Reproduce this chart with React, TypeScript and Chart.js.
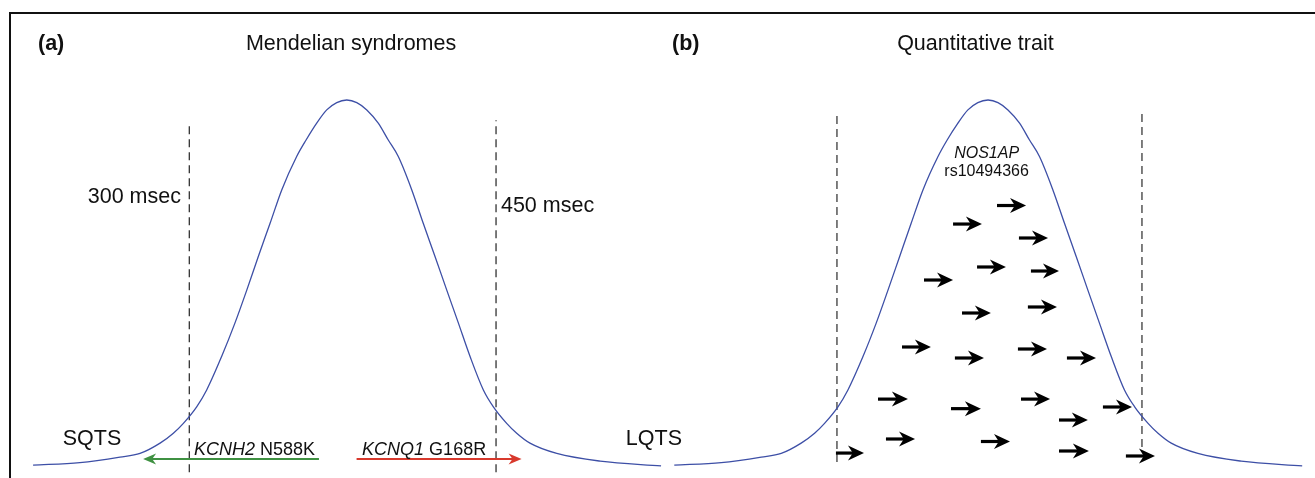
import React, { useEffect, useRef } from "react";
import { Chart, registerables } from "chart.js";
Chart.register(...registerables);

// ---------- Panel (a): Mendelian syndromes (x = QT interval, msec; y = relative frequency) ----------
const curveAX = [223.6, 246.5, 266.1, 275.9, 285.7, 292.2, 297.1, 303.6, 308.5, 315.8, 322.3, 328.1, 333.7, 339.5, 345.2, 352.5, 357.1, 362.3, 367.2, 372.1, 377.0, 381.9, 386.8, 392.4, 397.3, 402.2, 408.8, 414.4, 420.2, 425.9, 431.6, 437.3, 443.8, 448.7, 455.2, 460.1, 466.6, 479.7, 500.9, 530.7];
const curveAY = [0.005, 0.012, 0.027, 0.037, 0.065, 0.092, 0.119, 0.164, 0.21, 0.301, 0.392, 0.482, 0.573, 0.664, 0.755, 0.846, 0.891, 0.937, 0.973, 0.993, 1.0, 0.993, 0.973, 0.937, 0.891, 0.846, 0.755, 0.664, 0.573, 0.482, 0.392, 0.301, 0.21, 0.164, 0.119, 0.092, 0.065, 0.037, 0.016, 0.003];
const thresholdsA = [300, 450];
const thresholdTopA = [0.94, 0.945];
const thresholdBottomA = [-0.014, -0.014];
// variant arrows: [tail, tip] in msec, at level
const variantNames = ["KCNH2", "KCNQ1"];
const variantChanges = ["N588K", "G168R"];
const variantTail = [363.4, 381.8];
const variantTip = [277.4, 462.5];
const variantLevel = 0.0218;

// ---------- Panel (b): Quantitative trait ----------
const curveBX = [220.0, 243.1, 262.8, 272.6, 282.4, 289.0, 293.9, 300.5, 305.4, 312.8, 319.3, 325.1, 330.8, 336.5, 342.3, 349.7, 354.2, 359.5, 364.4, 369.3, 374.3, 379.2, 384.1, 389.8, 394.7, 399.6, 406.2, 411.9, 417.7, 423.4, 429.1, 434.9, 441.4, 446.4, 453.0, 457.9, 464.4, 477.5, 498.8, 528.8];
const curveBY = [0.005, 0.012, 0.027, 0.037, 0.065, 0.092, 0.119, 0.164, 0.21, 0.301, 0.392, 0.482, 0.573, 0.664, 0.755, 0.846, 0.891, 0.937, 0.973, 0.993, 1.0, 0.993, 0.973, 0.937, 0.891, 0.846, 0.755, 0.664, 0.573, 0.482, 0.392, 0.301, 0.21, 0.164, 0.119, 0.092, 0.065, 0.037, 0.016, 0.003];
const thresholdsB = [300, 450];
const thresholdTopB = [0.959, 0.965];
const thresholdBottomB = [0.0136, 0.0545];
// small-effect allele arrows
const arrowTail = [378.7, 357.1, 389.5, 342.8, 368.9, 395.4, 361.5, 393.9, 332.0, 358.0, 389.0, 413.1, 320.2, 356.1, 390.5, 409.2, 430.8, 324.1, 370.8, 409.2, 299.5, 442.1];
const arrowTip = [393.0, 371.3, 403.8, 357.1, 383.1, 409.2, 375.7, 408.2, 346.2, 372.3, 403.3, 427.4, 334.9, 370.8, 404.8, 423.4, 445.1, 338.4, 385.1, 423.9, 313.3, 456.4];
const arrowLevel = [0.7125, 0.662, 0.624, 0.5095, 0.545, 0.534, 0.4196, 0.436, 0.327, 0.297, 0.3215, 0.297, 0.185, 0.159, 0.185, 0.128, 0.1635, 0.0763, 0.0695, 0.0436, 0.038, 0.03];

// ---------- text annotations ----------
type Seg = { text: string; italic?: boolean; bold?: boolean };
type Label = { axis: "x" | "xb"; x: number; y: number; align: CanvasTextAlign; size: number; segs: Seg[] };
const labels: Label[] = [
  { axis: "x", x: 226.0, y: 1.1362, align: "left", size: 21.5, segs: [{ text: "(a)", bold: true }] },
  { axis: "x", x: 379.1, y: 1.1362, align: "center", size: 21.5, segs: [{ text: "Mendelian syndromes" }] },
  { axis: "x", x: 295.9, y: 0.7193, align: "right", size: 21.5, segs: [{ text: "300 msec" }] },
  { axis: "x", x: 452.4, y: 0.6948, align: "left", size: 21.5, segs: [{ text: "450 msec" }] },
  { axis: "x", x: 252.4, y: 0.0599, align: "center", size: 21.5, segs: [{ text: "SQTS" }] },
  { axis: "x", x: 302.3, y: 0.034, align: "left", size: 18, segs: [{ text: variantNames[0], italic: true }, { text: " " + variantChanges[0] }] },
  { axis: "x", x: 384.5, y: 0.034, align: "left", size: 18, segs: [{ text: variantNames[1], italic: true }, { text: " " + variantChanges[1] }] },
  { axis: "xb", x: 218.9, y: 1.1362, align: "left", size: 21.5, segs: [{ text: "(b)", bold: true }] },
  { axis: "xb", x: 368.1, y: 1.1362, align: "center", size: 21.5, segs: [{ text: "Quantitative trait" }] },
  { axis: "xb", x: 210.0, y: 0.0599, align: "center", size: 21.5, segs: [{ text: "LQTS" }] },
  { axis: "xb", x: 373.6, y: 0.842, align: "center", size: 16, segs: [{ text: "NOS1AP", italic: true }] },
  { axis: "xb", x: 373.6, y: 0.793, align: "center", size: 16, segs: [{ text: "rs10494366" }] },
];

const FAMILY = '"Liberation Sans", Arial, Helvetica, sans-serif';
const CURVE = "#3d4fa6";

function fontOf(s: Seg, size: number) {
  return `${s.italic ? "italic " : ""}${s.bold ? "bold " : ""}${size}px ${FAMILY}`;
}

function drawArrow(ctx: CanvasRenderingContext2D, x0: number, y: number, x1: number, color: string, lw: number, headLen: number, headHalf: number) {
  const dir = x1 >= x0 ? 1 : -1;
  ctx.save();
  ctx.strokeStyle = color;
  ctx.fillStyle = color;
  ctx.lineWidth = lw;
  ctx.beginPath();
  ctx.moveTo(x0, y);
  ctx.lineTo(x1 - dir * headLen * 0.6, y);
  ctx.stroke();
  ctx.beginPath();
  ctx.moveTo(x1, y);
  ctx.lineTo(x1 - dir * headLen, y - headHalf);
  ctx.lineTo(x1 - dir * headLen * 0.7, y);
  ctx.lineTo(x1 - dir * headLen, y + headHalf);
  ctx.closePath();
  ctx.fill();
  ctx.restore();
}

const overlay = {
  id: "overlay",
  afterDatasetsDraw(chart: any) {
    const ctx: CanvasRenderingContext2D = chart.ctx;
    const xa = chart.scales.x;
    const xb = chart.scales.xb;
    const y = chart.scales.y;
    // variant arrows (panel a)
    const colors = ["#3f9142", "#d8392d"];
    for (let i = 0; i < variantTail.length; i++) {
      drawArrow(ctx, xa.getPixelForValue(variantTail[i]), y.getPixelForValue(variantLevel), xa.getPixelForValue(variantTip[i]), colors[i], 1.8, 13, 5.5);
    }
    // allele arrows (panel b)
    for (let i = 0; i < arrowTail.length; i++) {
      drawArrow(ctx, xb.getPixelForValue(arrowTail[i]), y.getPixelForValue(arrowLevel[i]), xb.getPixelForValue(arrowTip[i]), "#000", 3.2, 16, 7.5);
    }
    // labels
    ctx.save();
    ctx.fillStyle = "#111";
    ctx.textBaseline = "alphabetic";
    for (const l of labels) {
      const sc = l.axis === "x" ? xa : xb;
      const px = sc.getPixelForValue(l.x);
      const py = y.getPixelForValue(l.y);
      let total = 0;
      const widths = l.segs.map((s) => {
        ctx.font = fontOf(s, l.size);
        const w = ctx.measureText(s.text).width;
        total += w;
        return w;
      });
      let start = px;
      if (l.align === "center") start = px - total / 2;
      else if (l.align === "right") start = px - total;
      ctx.textAlign = "left";
      l.segs.forEach((s, i) => {
        ctx.font = fontOf(s, l.size);
        ctx.fillText(s.text, start, py);
        start += widths[i];
      });
    }
    ctx.restore();
  },
};

function pts(xs: number[], ys: number[]) {
  return xs.map((x, i) => ({ x, y: ys[i] }));
}

export default function App() {
  const ref = useRef<HTMLCanvasElement>(null);
  useEffect(() => {
    const canvas = ref.current!;
    const datasets: any[] = [
      { data: pts(curveAX, curveAY), xAxisID: "x", borderColor: CURVE, borderWidth: 1.3, cubicInterpolationMode: "monotone", pointRadius: 0 },
      { data: pts(curveBX, curveBY), xAxisID: "xb", borderColor: CURVE, borderWidth: 1.3, cubicInterpolationMode: "monotone", pointRadius: 0 },
    ];
    thresholdsA.forEach((t, i) => {
      datasets.push({ data: [{ x: t, y: thresholdBottomA[i] }, { x: t, y: thresholdTopA[i] }], xAxisID: "x", borderColor: "#333", borderWidth: 1.3, borderDash: [8, 5], pointRadius: 0 });
    });
    thresholdsB.forEach((t, i) => {
      datasets.push({ data: [{ x: t, y: thresholdBottomB[i] }, { x: t, y: thresholdTopB[i] }], xAxisID: "xb", borderColor: "#555", borderWidth: 1.5, borderDash: [8, 5], pointRadius: 0 });
    });
    const chart = new Chart(canvas, {
      type: "line",
      data: { datasets },
      options: {
        responsive: false,
        maintainAspectRatio: false,
        animation: false,
        devicePixelRatio: 1,
        layout: { padding: 0 },
        scales: {
          x: { type: "linear", position: "bottom", min: 207.42, max: 850.5, display: false },
          xb: { type: "linear", axis: "x", position: "bottom", min: -111.6, max: 535.1, display: false },
          y: { type: "linear", min: -0.02997, max: 1.2725, display: false },
        },
        plugins: { legend: { display: false }, tooltip: { enabled: false }, title: { display: false } },
        elements: { point: { radius: 0 }, line: { fill: false } },
      } as any,
      plugins: [overlay],
    });
    return () => chart.destroy();
  }, []);
  return (
    <div style={{ position: "fixed", left: 0, top: 0, width: 1315, height: 478, background: "#fff", overflow: "hidden" }}>
      <canvas ref={ref} width={1315} height={478} style={{ display: "block", width: 1315, height: 478 }} />
      <div style={{ position: "absolute", left: 9, top: 12, right: -10, bottom: -10, borderTop: "2px solid #111", borderLeft: "2px solid #111", pointerEvents: "none" }} />
    </div>
  );
}
